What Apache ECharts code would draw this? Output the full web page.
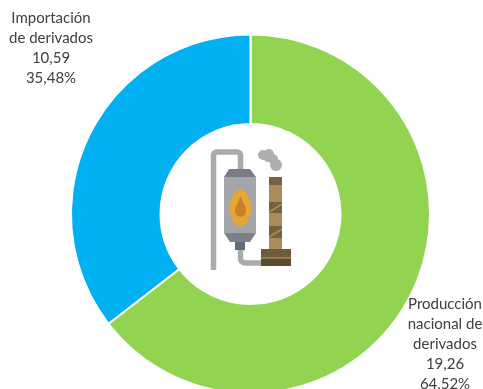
<!DOCTYPE html>
<html><head><meta charset="utf-8">
<style>html,body{margin:0;padding:0;background:#fff}#c{width:483px;height:389px}</style>
<script src="https://cdn.jsdelivr.net/npm/echarts@6/dist/echarts.min.js"></script>
</head><body><div id="c"></div>
<script>
const categories = ['Producción\nnacional de\nderivados', 'Importación\nde derivados'];
const values = [19.26, 10.59];
const colors = ['#92d350', '#00b0f0'];
const labelSpots = [{x: 445, y: 344}, {x: 51, y: 48}];

const chart = echarts.init(document.getElementById('c'), null, {renderer: 'canvas'});
const grey = '#a9aaac';
const brown = '#a98c5a', dark = '#6f5b39';
function pipe(points) {
  return {type: 'polyline', z: 5, shape: {points}, style: {stroke: grey, lineWidth: 5.5, fill: null, lineJoin: 'round'}};
}
function rect(x, y, w, h, fill) {
  return {type: 'rect', z: 6, shape: {x, y, width: w, height: h}, style: {fill}};
}
function poly(points, fill, z) {
  return {type: 'polygon', z: z || 6, shape: {points}, style: {fill}};
}
function puff(cx, cy, r) {
  return {type: 'circle', z: 5, shape: {cx, cy, r}, style: {fill: '#aeaeae'}};
}
const icon = [
  pipe([[213.5, 270], [213.5, 155], [214.5, 153], [216.5, 152], [237.5, 152], [239.5, 153], [240.5, 155], [240.5, 170]]),
  pipe([[240.5, 248], [240.5, 259], [241.5, 261.5], [244, 263], [262, 263]]),
  puff(263, 155, 5), puff(269, 154, 5), puff(268, 158, 4), puff(273, 159, 5), puff(276, 165, 6),
  poly([[229, 169], [250, 169], [256, 177], [224, 177]], '#797c86'),
  rect(224, 177, 32, 56, '#a4a6a9'),
  poly([[224, 233], [256, 233], [250, 242], [230, 242]], '#7d8087'),
  rect(235, 242, 10, 8, '#5f6b7f'),
  {type: 'ellipse', z: 7, shape: {cx: 240.5, cy: 208, rx: 10.5, ry: 18.5}, style: {fill: '#e5a732'}},
  poly([[240.5, 196], [243, 202], [246, 208], [246, 212], [244.5, 215.5], [240.5, 217], [236.5, 215.5], [235, 212], [235, 208], [238, 202]], '#c77f2c', 8),
  rect(269, 177, 13, 72, brown),
  rect(269, 177, 13, 8, '#76623f'),
  rect(269, 202, 13, 11, '#76623f'),
  rect(269, 226, 13, 12, '#76623f'),
  poly([[269, 211], [282, 203], [282, 205], [269, 213]], brown, 7),
  poly([[269, 236], [282, 228], [282, 230], [269, 238]], brown, 7),
  rect(261, 249, 30, 8, dark),
  rect(261, 257, 30, 2, '#8f7a52'),
  rect(261, 259, 30, 7, '#5c4a2c')
];
chart.setOption({
  animation: false,
  backgroundColor: '#fff',
  graphic: {elements: icon},
  series: [{
    type: 'pie',
    center: [250.5, 214],
    radius: [90, 179.5],
    startAngle: 90,
    clockwise: true,
    silent: true,
    data: categories.map((name, i) => ({name, value: values[i], itemStyle: {color: colors[i]}})),
    itemStyle: {borderColor: '#fff', borderWidth: 2},
    label: {
      show: true,
      position: 'inside',
      color: '#404040',
      fontFamily: 'Lato, "Open Sans", sans-serif',
      fontSize: 15,
      lineHeight: 20,
      align: 'center',
      rotate: 0,
      formatter: p => p.name + '\n' + String(p.value).replace('.', ',') + '\n' + p.percent.toFixed(2).replace('.', ',') + '%'
    },
    percentPrecision: 2,
    labelLine: {show: false},
    labelLayout: p => ({x: labelSpots[p.dataIndex].x, y: labelSpots[p.dataIndex].y, align: 'center', verticalAlign: 'middle', hideOverlap: false})
  }]
});
</script></body></html>
